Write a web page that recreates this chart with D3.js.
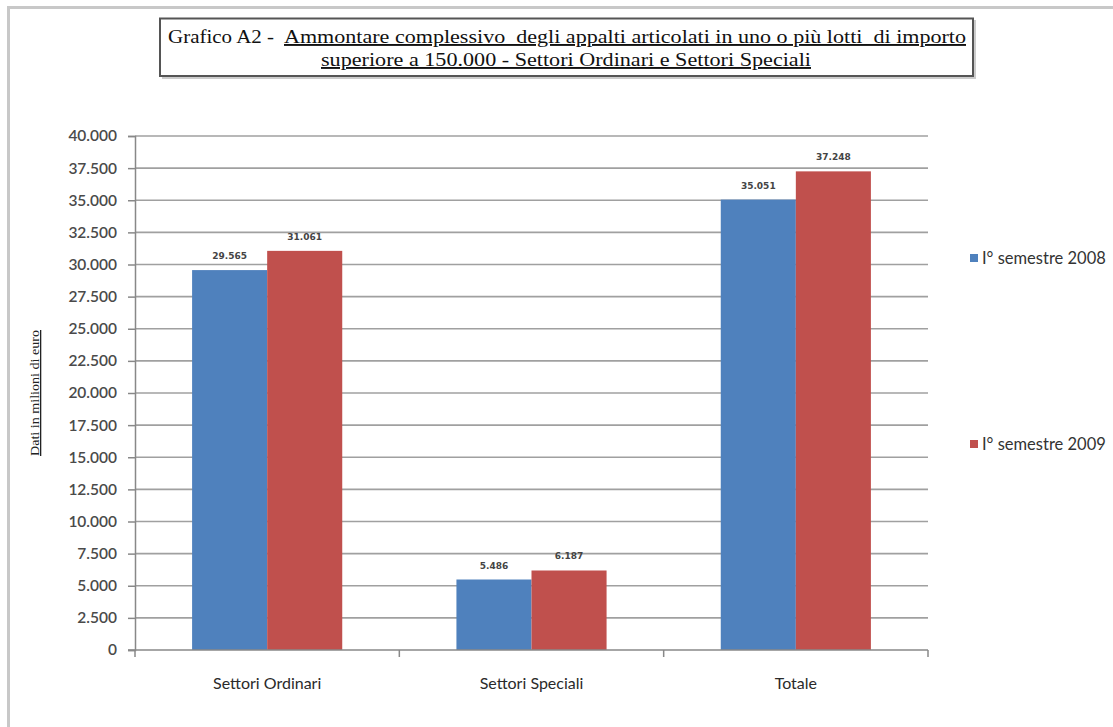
<!DOCTYPE html>
<html>
<head>
<meta charset="utf-8">
<script src="https://cdn.jsdelivr.net/npm/d3@7"></script>
<style>
  html, body { margin: 0; padding: 0; background: #fff; }
  svg { display: block; }
  text { white-space: pre; }
</style>
</head>
<body>
<svg id="chart" width="1113" height="727"></svg>
<script>
// Importi in milioni di euro
const categories = ["Settori Ordinari", "Settori Speciali", "Totale"];
const seriesNames = ["I° semestre 2008", "I° semestre 2009"];
const values2008 = [29565, 5486, 35051];
const values2009 = [31061, 6187, 37248];
const yTicks = [0, 2500, 5000, 7500, 10000, 12500, 15000, 17500, 20000, 22500, 25000, 27500, 30000, 32500, 35000, 37500, 40000];
const colors = ["#4F81BD", "#C0504D"];

const series = [values2008, values2009];

const it = d3.formatLocale({ decimal: ",", thousands: ".", grouping: [3], currency: ["", " €"] });
const fmt = it.format(",");

const svg = d3.select("#chart");
const serif = "'Liberation Serif', 'Times New Roman', serif";
const sans = "Lato, 'Open Sans', sans-serif";

// outer frame
svg.append("rect")
  .attr("x", 8.5).attr("y", 7.5).attr("width", 1120).attr("height", 740)
  .attr("fill", "#fff").attr("stroke", "#c8c8c8").attr("stroke-width", 3);

// title box
const tb = svg.append("g");
tb.append("rect")
  .attr("x", 162).attr("y", 20).attr("width", 814).attr("height", 59)
  .attr("fill", "#999").attr("opacity", 0.5);
tb.append("rect")
  .attr("x", 160).attr("y", 18.5).attr("width", 813).attr("height", 57.5)
  .attr("fill", "#fff").attr("stroke", "#555").attr("stroke-width", 2);

tb.append("text")
  .attr("x", 168).attr("y", 43)
  .attr("textLength", 106).attr("lengthAdjust", "spacingAndGlyphs")
  .style("font-family", serif).style("font-size", "19px").attr("fill", "#111")
  .text("Grafico A2 -");
tb.append("text")
  .attr("x", 284).attr("y", 43)
  .attr("textLength", 682).attr("lengthAdjust", "spacingAndGlyphs")
  .attr("text-decoration", "underline")
  .style("font-family", serif).style("font-size", "19px").attr("fill", "#111")
  .text("Ammontare complessivo  degli appalti articolati in uno o più lotti  di importo");
tb.append("text")
  .attr("x", 321).attr("y", 66)
  .attr("textLength", 490).attr("lengthAdjust", "spacingAndGlyphs")
  .attr("text-decoration", "underline")
  .style("font-family", serif).style("font-size", "19px").attr("fill", "#111")
  .text("superiore a 150.000 - Settori Ordinari e Settori Speciali");

// plot area
const plotLeft = 135, plotRight = 928, plotTop = 136, plotBottom = 650;

const y = d3.scaleLinear().domain([0, 40000]).range([plotBottom, plotTop]);
const x0 = d3.scaleBand().domain(categories).range([plotLeft, plotRight])
  .paddingInner(0.432).paddingOuter(0.216);
const x1 = d3.scaleBand().domain(seriesNames).range([0, x0.bandwidth()]);

// gridlines
svg.append("g")
  .selectAll("line").data(yTicks.filter(d => d > 0)).join("line")
  .attr("x1", plotLeft).attr("x2", plotRight)
  .attr("y1", d => y(d)).attr("y2", d => y(d))
  .attr("stroke", "#a0a0a0").attr("stroke-width", 1.6);

// y axis
const yAxis = svg.append("g").attr("transform", `translate(${plotLeft},0)`)
  .call(d3.axisLeft(y).tickValues(yTicks).tickFormat(d => fmt(d)).tickSize(7).tickPadding(11));
yAxis.select(".domain").attr("stroke", "#888").attr("stroke-width", 1.5);
yAxis.selectAll(".tick line").attr("stroke", "#888").attr("stroke-width", 1.5);
yAxis.selectAll("text")
  .style("font-family", sans)
  .style("font-size", "15.5px").style("font-weight", "600").attr("fill", "#4a4a4a");

// bars
const groups = svg.append("g").selectAll("g").data(categories).join("g")
  .attr("transform", d => `translate(${x0(d)},0)`);

groups.selectAll("rect")
  .data((c, i) => series.map((s, k) => ({ name: seriesNames[k], value: s[i], k })))
  .join("rect")
  .attr("x", d => x1(d.name))
  .attr("y", d => y(d.value))
  .attr("width", x1.bandwidth())
  .attr("height", d => y(0) - y(d.value))
  .attr("fill", d => colors[d.k]);

groups.selectAll("text.val")
  .data((c, i) => series.map((s, k) => ({ name: seriesNames[k], value: s[i], k })))
  .join("text")
  .attr("class", "val")
  .attr("x", d => x1(d.name) + x1.bandwidth() / 2)
  .attr("y", d => y(d.value) - 11)
  .attr("text-anchor", "middle")
  .style("font-family", "'DejaVu Sans', sans-serif")
  .style("font-size", "9px").style("font-weight", "bold").attr("fill", "#444")
  .text(d => fmt(d.value));

// x axis
const xAxis = svg.append("g").attr("transform", `translate(0,${plotBottom})`);
xAxis.append("line").attr("x1", plotLeft - 7).attr("x2", plotRight)
  .attr("stroke", "#888").attr("stroke-width", 1.5);
const edges = [plotLeft].concat(categories.map(c => x0(c) + x0.bandwidth() / 2 + x0.step() / 2));
xAxis.selectAll("line.tk").data(edges).join("line").attr("class", "tk")
  .attr("x1", d => d).attr("x2", d => d).attr("y1", 0).attr("y2", 7)
  .attr("stroke", "#888").attr("stroke-width", 1.5);
xAxis.selectAll("text").data(categories).join("text")
  .attr("x", d => x0(d) + x0.bandwidth() / 2)
  .attr("y", 39)
  .attr("text-anchor", "middle")
  .style("font-family", sans)
  .style("font-size", "16px").attr("fill", "#2a2a2a")
  .text(d => d);

// y axis title
svg.append("text")
  .attr("transform", `translate(39,393) rotate(-90)`)
  .attr("text-anchor", "middle")
  .attr("textLength", 126).attr("lengthAdjust", "spacingAndGlyphs")
  .attr("text-decoration", "underline")
  .style("font-family", serif)
  .style("font-size", "13px").attr("fill", "#222")
  .text("Dati in milioni di euro");

// legend
const legendY = [258, 444];
const lg = svg.append("g").selectAll("g").data(seriesNames).join("g")
  .attr("transform", (d, i) => `translate(970,${legendY[i]})`);
lg.append("rect").attr("x", 0).attr("y", -4).attr("width", 8).attr("height", 8)
  .attr("fill", (d, i) => colors[i]);
lg.append("text").attr("x", 12).attr("y", 6)
  .style("font-family", sans)
  .style("font-size", "16.5px").attr("fill", "#333")
  .text(d => d);
</script>
</body>
</html>
